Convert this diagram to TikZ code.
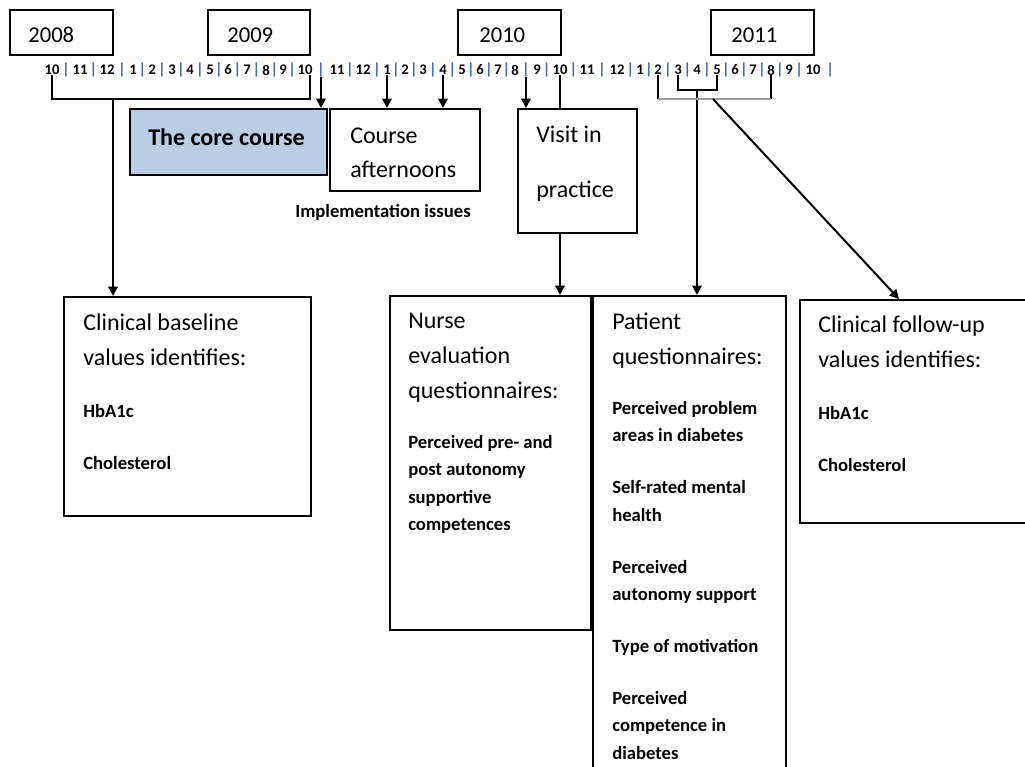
\documentclass[tikz,border=0pt]{standalone}
\usepackage{fontspec}
\setmainfont{Carlito}
\usepackage{tikz}
\usetikzlibrary{arrows.meta, positioning, fit}
\definecolor{courseBlue}{HTML}{B9CDE5}
\definecolor{monthBar}{HTML}{3F6DB3}
\definecolor{bracketGray}{HTML}{9A9A9A}

\begin{document}
\begin{tikzpicture}[
  x=0.75pt, y=-0.75pt,
  box/.style={draw, line width=1.5pt, inner sep=0pt},
  yeartxt/.style={anchor=west, inner sep=0pt, font=\fontsize{17}{20}\selectfont},
  month/.style={inner sep=0pt, font=\bfseries\fontsize{11}{13}\selectfont},
  bar/.style={inner sep=0pt, text=monthBar, font=\bfseries\fontsize{12}{13}\selectfont},
  head/.style={anchor=north west, inner sep=0pt, align=left, font=\fontsize{18}{26}\selectfont},
  items/.style={anchor=north west, inner sep=0pt, align=left, font=\bfseries\fontsize{14}{20.5}\selectfont},
  link/.style={line width=1.5pt},
  a/.style={-{Triangle[length=7pt, width=7pt]}, line width=1.5pt}
]
\useasboundingbox (0,0) rectangle (1025,767);
\clip (0,0) rectangle (1025,767);

% years
\node[box, fit={(10,10) (113,55)}] (y2008) {};
\node[box, fit={(208,10) (310,55)}] (y2009) {};
\node[box, fit={(458,10) (561,55)}] (y2010) {};
\node[box, fit={(711,10) (814,55)}] (y2011) {};
\node[yeartxt] (t2008) at (28,35) {2008};
\node[yeartxt] (t2009) at (227,35) {2009};
\node[yeartxt] (t2010) at (479,35) {2010};
\node[yeartxt] (t2011) at (731,35) {2011};

% months
\foreach \m/\x [count=\i] in {10/52, 11/80, 12/107, 1/133, 2/152, 3/172, 4/190, 5/210, 6/228, 7/247, 8/266, 9/283,
    10/305, 11/337, 12/363, 1/387, 2/405, 3/423, 4/443, 5/462, 6/480, 7/498, 8/515, 9/537,
    10/560, 11/587, 12/617, 1/640, 2/658, 3/678, 4/697, 5/717, 6/735, 7/753, 8/771, 9/789, 10/813}
  \node[month] (m\i) at (\x,70) {\m};
\foreach \i [evaluate=\i as \j using int(\i+1)] in {1,...,36}
  \path (m\i) -- (m\j) node[midway, bar] (bar\i) {|};
\node[bar, right=4pt of m37] (bar37) {|};

% course boxes
\node[box, fill=courseBlue, fit={(130,109) (327,175)}] (core) {};
\node[head, anchor=west, font=\bfseries\fontsize{18}{26}\selectfont] (coretxt) at (148,137) {The core course};
\node[box, fit={(330,109) (480,191)}] (aftn) {};
\node[head, font=\fontsize{18}{25.5}\selectfont] (aftntxt) at (350,128) {Course\\afternoons};
\node[box, fit={(518,109) (637,233)}] (visit) {};
\node[head, font=\fontsize{18}{41}\selectfont] (visittxt) at (536,126) {Visit in\\practice};
\node[items, anchor=west] (issues) at (295,212) {Implementation issues};

% measurement boxes
\node[box, fit={(64,297) (311,516)}] (baseline) {};
\node[head] (baselinetxt) at (83,314) {Clinical baseline\\values identifies:};
\node[items] (baselinelist) at (83,404) {HbA1c\\[18.5pt]Cholesterol};

\node[box, fit={(390,296) (591,630)}] (nurse) {};
\node[head] (nursetxt) at (408,313) {Nurse\\evaluation\\questionnaires:};
\node[items] (nurselist) at (408,435) {Perceived pre- and\\post autonomy\\supportive\\competences};

\node[box, fit={(593,296) (786,790)}] (patient) {};
\node[head] (patienttxt) at (612,313) {Patient\\questionnaires:};
\node[items] (patientlist) at (612,401) {Perceived problem\\areas in diabetes\\[18.5pt]Self-rated mental\\health\\[18.5pt]Perceived\\autonomy support\\[18.5pt]Type of motivation\\[18.5pt]Perceived\\competence in\\diabetes};

\node[box, fit={(800,300) (1035,523)}] (followup) {};
\node[head] (followuptxt) at (818,316) {Clinical follow-up\\values identifies:};
\node[items] (followuplist) at (818,406) {HbA1c\\[18.5pt]Cholesterol};

% connectors
\coordinate (b1) at (113,99);
\draw[link] (m1.south) |- (b1) -| ([xshift=4pt]m13.south);
\draw[a] (b1) -- (b1 |- baseline.north);
\draw[a] (bar13.south) -- (bar13.south |- core.north);
\draw[a] (m16.south) -- (m16.south |- aftn.north);
\draw[a] (m19.south) -- (m19.south |- aftn.north);
\draw[a] (bar23.south) -- (bar23.south |- visit.north);
\draw[link] (m25.south) -- (m25.south |- visit.north);
\draw[a] (visit.south -| m25.south) -- (m25.south |- nurse.north);

\coordinate (b3) at (697,90);
\draw[link] (m30.south) |- (b3) -| (m32.south);
\draw[a] (b3) -- (b3 |- patient.north);

\coordinate (b4) at (713,99);
\draw[link] (m29.south) -- (m29.south |- b4);
\draw[link] (m35.south) -- (m35.south |- b4);
\draw[link, draw=bracketGray] (m29.south |- b4) -- (m35.south |- b4);
\draw[a] (b4) -- ([xshift=75pt]followup.north west);
\end{tikzpicture}
\end{document}
